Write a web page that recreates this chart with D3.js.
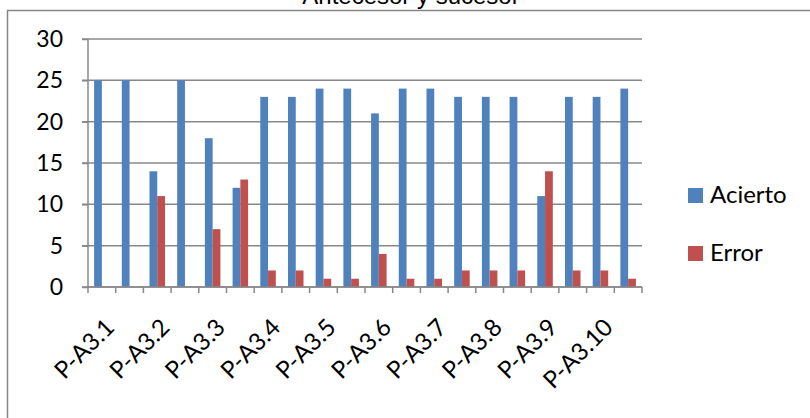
<!DOCTYPE html>
<html>
<head>
<meta charset="utf-8">
<script src="https://cdn.jsdelivr.net/npm/d3@7"></script>
<style>
  body { margin: 0; background: #fff; }
  text { font-family: Lato, "Open Sans", sans-serif; }
</style>
</head>
<body>
<div id="my_dataviz"></div>
<script>
// chart data
const title = "Antecesor y sucesor"
const categories = ["P-A3.1", "", "P-A3.2", "", "P-A3.3", "", "P-A3.4", "", "P-A3.5", "",
                    "P-A3.6", "", "P-A3.7", "", "P-A3.8", "", "P-A3.9", "", "P-A3.10", ""]
const series = ["Acierto", "Error"]
const acierto = [25, 25, 14, 25, 18, 12, 23, 23, 24, 24, 21, 24, 24, 23, 23, 23, 11, 23, 23, 24]
const error = [0, 0, 11, 0, 7, 13, 2, 2, 1, 1, 4, 1, 1, 2, 2, 2, 14, 2, 2, 1]
const yTicks = [0, 5, 10, 15, 20, 25, 30]
const colors = ["#4F81BD", "#C0504D"]

const width = 810
const height = 418
const margin = {left: 88, right: 168, top: 39, bottom: 131}

const svg = d3.select("#my_dataviz")
  .append("svg")
    .attr("width", width)
    .attr("height", height)

// outer chart border (cut at right/bottom like the source)
svg.append("rect")
  .attr("x", 7.5).attr("y", 10.5)
  .attr("width", 820).attr("height", 420)
  .attr("fill", "none")
  .attr("stroke", "#868686")
  .attr("stroke-width", 1.5)

// title, mostly clipped at the top
svg.append("text")
  .attr("x", 411).attr("y", 4)
  .attr("text-anchor", "middle")
  .style("font-family", "'Liberation Sans', Arial, sans-serif")
  .style("font-size", "24px")
  .text(title)

const idx = d3.range(categories.length)
const x0 = d3.scaleBand()
  .domain(idx)
  .range([margin.left, width - margin.right])
  .padding(0)

const groupW = x0.bandwidth() * 0.56
const x1 = d3.scaleBand()
  .domain(series)
  .range([0, groupW])

const y = d3.scaleLinear()
  .domain([0, 30])
  .range([height - margin.bottom, margin.top])

// gridlines
svg.append("g")
  .selectAll("line")
  .data(yTicks)
  .join("line")
    .attr("x1", margin.left - 6)
    .attr("x2", width - margin.right)
    .attr("y1", d => y(d))
    .attr("y2", d => y(d))
    .attr("stroke", "#888")
    .attr("stroke-width", 1.5)

// y axis
const yAxis = svg.append("g")
  .attr("transform", `translate(${margin.left},0)`)
  .call(d3.axisLeft(y).tickValues(yTicks).tickSize(6).tickPadding(19))
yAxis.selectAll("line, path").attr("stroke", "#888").attr("stroke-width", 1.5)
yAxis.select(".domain").attr("d", `M0,${y(0)}V${y(30)}`)
yAxis.selectAll("text")
  .style("font-family", "Lato, sans-serif")
  .style("font-size", "23px")
  .attr("fill", "#000")

// bars
const rows = idx.map(i => ({i: i, values: [acierto[i], error[i]]}))
svg.append("g")
  .selectAll("g")
  .data(rows)
  .join("g")
    .attr("transform", d => `translate(${x0(d.i) + (x0.bandwidth() - groupW) / 2},0)`)
  .selectAll("rect")
  .data(d => d.values.map((v, k) => ({key: series[k], value: v, k: k})))
  .join("rect")
    .attr("x", d => x1(d.key))
    .attr("width", x1.bandwidth())
    .attr("y", d => y(d.value))
    .attr("height", d => y(0) - y(d.value))
    .attr("fill", d => colors[d.k])

// x axis line + ticks at category boundaries
const xg = svg.append("g")
xg.append("line")
  .attr("x1", margin.left).attr("x2", width - margin.right)
  .attr("y1", y(0)).attr("y2", y(0))
  .attr("stroke", "#888").attr("stroke-width", 1.5)
xg.selectAll("line.tick")
  .data(d3.range(categories.length + 1))
  .join("line")
    .attr("class", "tick")
    .attr("x1", d => margin.left + d * x0.bandwidth())
    .attr("x2", d => margin.left + d * x0.bandwidth())
    .attr("y1", y(0)).attr("y2", y(0) + 6)
    .attr("stroke", "#888").attr("stroke-width", 1.5)

// rotated category labels
xg.selectAll("text")
  .data(idx.filter(i => categories[i] !== ""))
  .join("text")
    .attr("transform", d => `translate(${x0(d) + x0.bandwidth() / 2 + 2},${y(0) + 30}) rotate(-45)`)
    .attr("text-anchor", "end")
    .attr("dy", "0.7em")
    .style("font-size", "24px")
    .text(d => categories[d])

// legend
const legend = svg.append("g")
  .selectAll("g")
  .data(series)
  .join("g")
    .attr("transform", (d, i) => `translate(688,${203 + i * 58})`)
legend.append("rect")
  .attr("x", 0).attr("y", -15)
  .attr("width", 15).attr("height", 15)
  .attr("fill", (d, i) => colors[i])
legend.append("text")
  .attr("x", 22).attr("y", 0)
  .style("font-size", "24px")
  .text(d => d)
</script>
</body>
</html>
